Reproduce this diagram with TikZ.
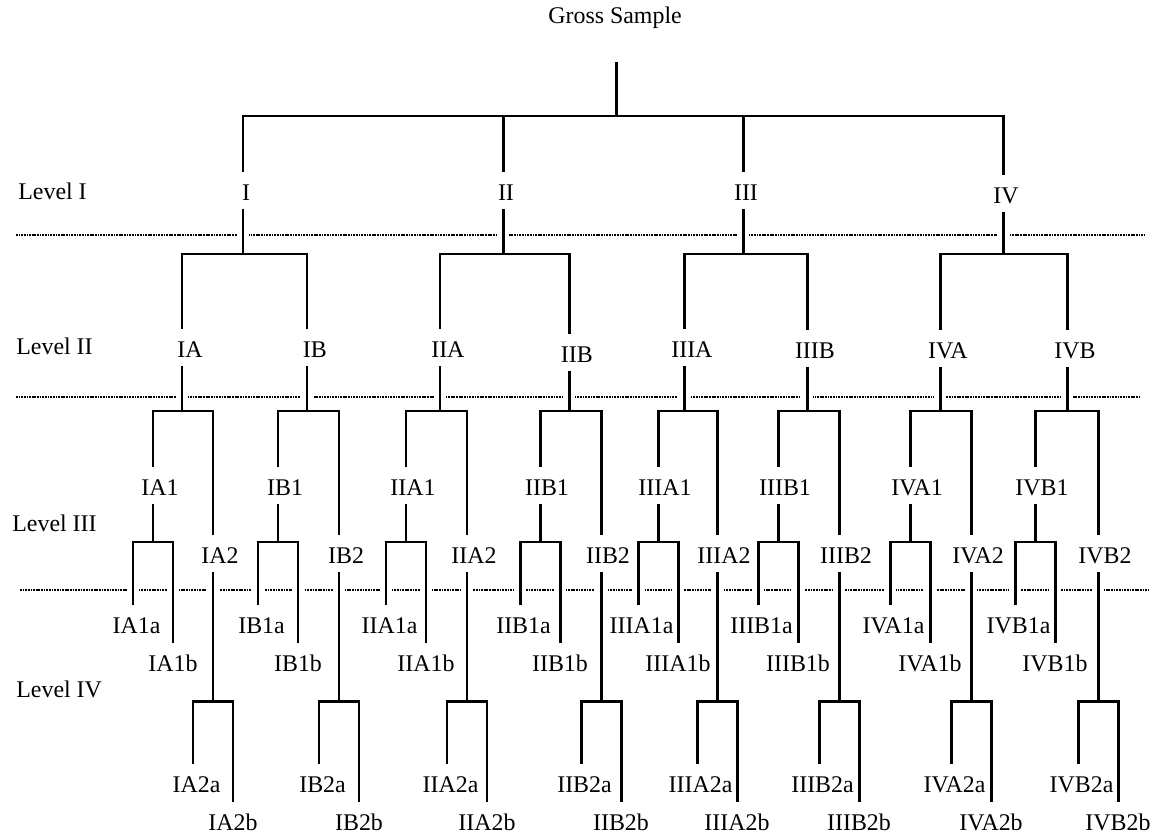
\documentclass[tikz,border=0pt]{standalone}
\usepackage{fontspec}
\setmainfont{Liberation Serif}
\usetikzlibrary{calc}

\pgfdeclarelayer{rules}
\pgfdeclarelayer{links}
\pgfsetlayers{rules,links,main}

\tikzset{
    tag/.style={font=\fontsize{13.6}{16}\selectfont, anchor=base,
        inner xsep=1pt, inner ysep=5pt, text height=11pt, text depth=0pt,
        execute at begin node={\hbox to 0pt\bgroup\hss\kern#1\relax},
        execute at end node={\hss\egroup}},
    tag/.default=3.4pt,
    lvl/.style={font=\fontsize{13.6}{16}\selectfont, anchor=base west, inner sep=0pt},
    link/.style={draw, line width=1.7pt, preaction={draw=white, line width=7pt}},
    sep/.style={line width=1.7pt, dash pattern=on 1pt off 0.5pt}
}
\newcommand{\fork}[4]{\draw[link] (#1.south) -- (#1.south |- #4)
    (#2.north) |- (#1.south |- #4) -| (#3.north);}

\begin{document}
\begin{tikzpicture}[x=0.02cm, y=-0.02cm]
\useasboundingbox (0,0) rectangle (1156,838);

% level rules
\begin{pgfonlayer}{rules}
\draw[sep] (16,235) -- (1145,235);
\draw[sep] (16,397) -- (1139,397);
\draw[sep] (20,590) -- (1148,590);
\end{pgfonlayer}

% heights of the bars
\coordinate (bar1) at (0,116);
\coordinate (bar2) at (0,254);
\coordinate (bar3) at (0,411);
\coordinate (bar4) at (0,542);
\coordinate (bar5) at (0,701);

\node[lvl] (gross) at (548,24) {Gross Sample};
\coordinate (top) at (616,62);
\node[lvl] (lvI) at (18,199) {Level I};
\node[lvl] (lvII) at (16,354) {Level II};
\node[lvl] (lvIII) at (12,531) {Level III};
\node[lvl] (lvIV) at (16,697) {Level IV};

% level I
\foreach \n/\x/\y in {I/243/200, II/503/200, III/743/200, IV/1003/203}
    \node[tag] (\n) at (\x,\y) {\n};

% level II
\foreach \n/\x/\y in {IA/182/357, IB/307/357, IIA/440/357, IIB/569/362,
                      IIIA/684/357, IIIB/807/358, IVA/940/358, IVB/1067/358}
    \node[tag=9pt] (\n) at (\x,\y) {\n};

% levels III and IV
\foreach \n/\x/\xx in {IA/153/213, IB/278/339, IIA/406/467, IIB/540/601,
                       IIIA/658/717, IIIB/778/839, IVA/910/971, IVB/1035/1098} {
    \node[tag=8pt] (\n1) at (\x,495) {\n1};
    \node[tag=8pt] (\n2) at (\xx,563) {\n2};
    \node[tag=4pt] (\n1a) at (\x-20,633) {\n1a};
    \node[tag=0pt] (\n1b) at (\x+20,671) {\n1b};
    \node[tag=4pt] (\n2a) at (\xx-20,792) {\n2a};
    \node[tag=0pt] (\n2b) at (\xx+20,830) {\n2b};
}

% connectors
\begin{pgfonlayer}{links}
\draw[link] (top) -- (top |- bar1)
    (I.north) |- (IV.north |- bar1) -- (IV.north)
    (II.north) -- (II.north |- bar1)
    (III.north) -- (III.north |- bar1);
\foreach \n in {I,II,III,IV} {
    \fork{\n}{\n A}{\n B}{bar2}
}
\foreach \n in {IA,IB,IIA,IIB,IIIA,IIIB,IVA,IVB} {
    \fork{\n}{\n1}{\n2}{bar3}
    \fork{\n1}{\n1a}{\n1b}{bar4}
    \fork{\n2}{\n2a}{\n2b}{bar5}
}
\end{pgfonlayer}
\end{tikzpicture}
\end{document}
